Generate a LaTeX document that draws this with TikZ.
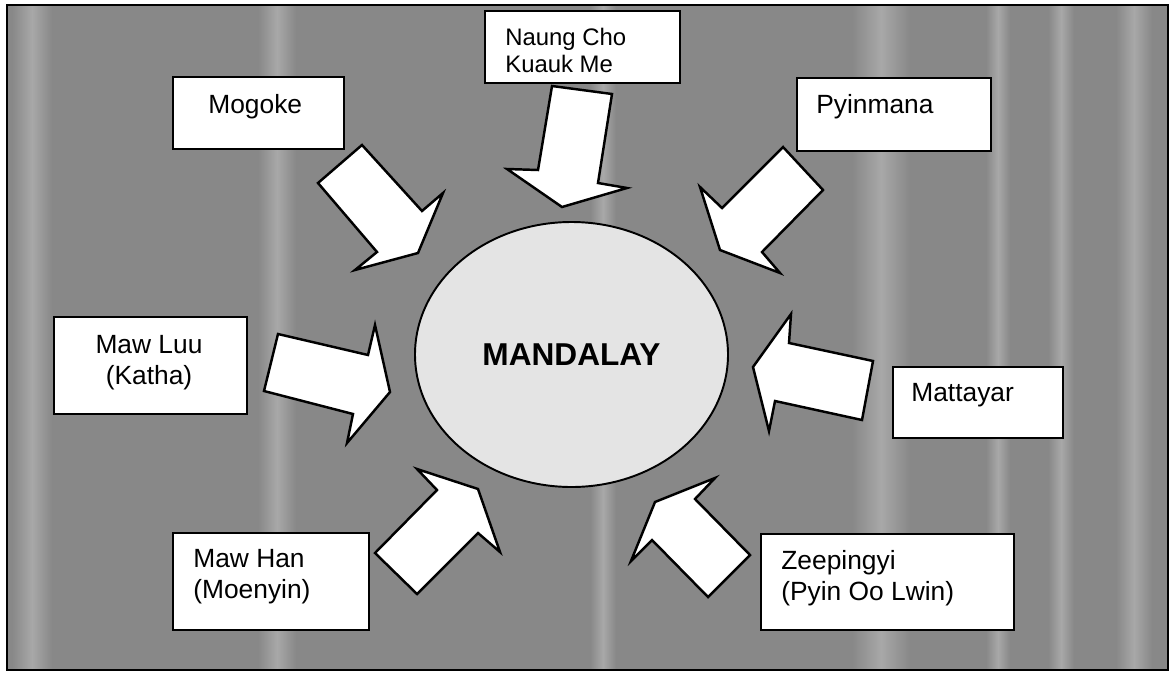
\documentclass[tikz,border=0pt]{standalone}
\usepackage{fontspec}
\setmainfont{Liberation Sans}
\usetikzlibrary{fit,shapes.geometric}

\definecolor{ground}{HTML}{888888}
\definecolor{streak}{HTML}{A8A8A8}
\definecolor{cityfill}{HTML}{E4E4E4}

\begin{document}
\begin{tikzpicture}[x=0.02cm, y=-0.02cm,
  placebox/.style={draw=black, fill=white, line width=1.6pt, inner sep=0pt},
  placename/.style={font=\fontsize{15}{17.4}\selectfont, inner sep=0pt, align=left},
  smallname/.style={font=\fontsize{13.6}{15.3}\selectfont, inner sep=0pt, align=left},
  blockarrow/.style={draw=black, fill=white, line width=1.4pt, line join=miter},
  city/.style={ellipse, draw=black, fill=cityfill, line width=1.1pt, inner sep=0pt,
    minimum width=313*0.02cm, minimum height=265*0.02cm,
    font=\fontsize{18}{20}\selectfont\bfseries},
  band/.style={left color=ground, right color=ground, middle color=streak}]

\useasboundingbox (0,0) rectangle (1173,673);

% textured backdrop with pale vertical streaks
\fill[white] (0,0) rectangle (1173,673);
\fill[ground] (7,5) rectangle (1168,670);
\shade[band] (12,5) rectangle (52,670);
\shade[band] (258,5) rectangle (296,670);
\shade[band] (590,5) rectangle (616,670);
\shade[band] (852,5) rectangle (910,670);
\shade[band] (986,5) rectangle (1010,670);
\shade[band] (1048,5) rectangle (1074,670);
\shade[band] (1116,5) rectangle (1152,670);
\draw[black, line width=0.9pt] (7,5) rectangle (1168,670);

% the city in the middle
\node[city] (mandalay) at (571.5,354.5) {MANDALAY};

% block arrows pointing in towards the city
\draw[blockarrow] (362,145) -- (422,211) -- (443,193) -- (418,253) -- (355,270) -- (377,252) -- (318,183) -- cycle;
\draw[blockarrow] (552,86) -- (612,94) -- (598,183) -- (627,188) -- (562,207) -- (507,169) -- (538,170) -- cycle;
\draw[blockarrow] (783,147) -- (823,190) -- (762,252) -- (780,273) -- (720,250) -- (700,187) -- (722,208) -- cycle;
\draw[blockarrow] (278,334) -- (368,355) -- (375,325) -- (390,392) -- (347,443) -- (353,414) -- (264,391) -- cycle;
\draw[blockarrow] (873,361) -- (789,343) -- (791,314) -- (753,367) -- (769,431) -- (775,401) -- (862,420) -- cycle;
\draw[blockarrow] (375,553) -- (437,490) -- (417,469) -- (478,489) -- (500,552) -- (478,533) -- (417,594) -- cycle;
\draw[blockarrow] (750,555) -- (695,499) -- (715,478) -- (655,502) -- (631,561) -- (652,540) -- (708,597) -- cycle;

% source boxes
\node[placebox, fit={(173,77) (344,149)}] (mogoke) {};
\node[placebox, fit={(485,11) (680,83)}] (naungcho) {};
\node[placebox, fit={(797,78) (991,151)}] (pyinmana) {};
\node[placebox, fit={(54,317) (247,414)}] (mawluu) {};
\node[placebox, fit={(893,367) (1063,438)}] (mattayar) {};
\node[placebox, fit={(173,533) (369,630)}] (mawhan) {};
\node[placebox, fit={(761,534) (1014,630)}] (zeepingyi) {};

% box captions (base anchors sit on the last line)
\node[placename, anchor=base west] (mogoke-t) at (208,113) {Mogoke};
\node[smallname, anchor=base west] (naungcho-t) at (505,72) {Naung Cho\\Kuauk Me};
\node[placename, anchor=base west] (pyinmana-t) at (816,113) {Pyinmana};
\node[placename, align=center, anchor=base] (mawluu-t) at (149,384) {Maw Luu\\(Katha)};
\node[placename, anchor=base west] (mattayar-t) at (911,401) {Mattayar};
\node[placename, anchor=base west] (mawhan-t) at (193,598) {Maw Han\\(Moenyin)};
\node[placename, anchor=base west] (zeepingyi-t) at (781,600) {Zeepingyi\\(Pyin Oo Lwin)};

\end{tikzpicture}
\end{document}
